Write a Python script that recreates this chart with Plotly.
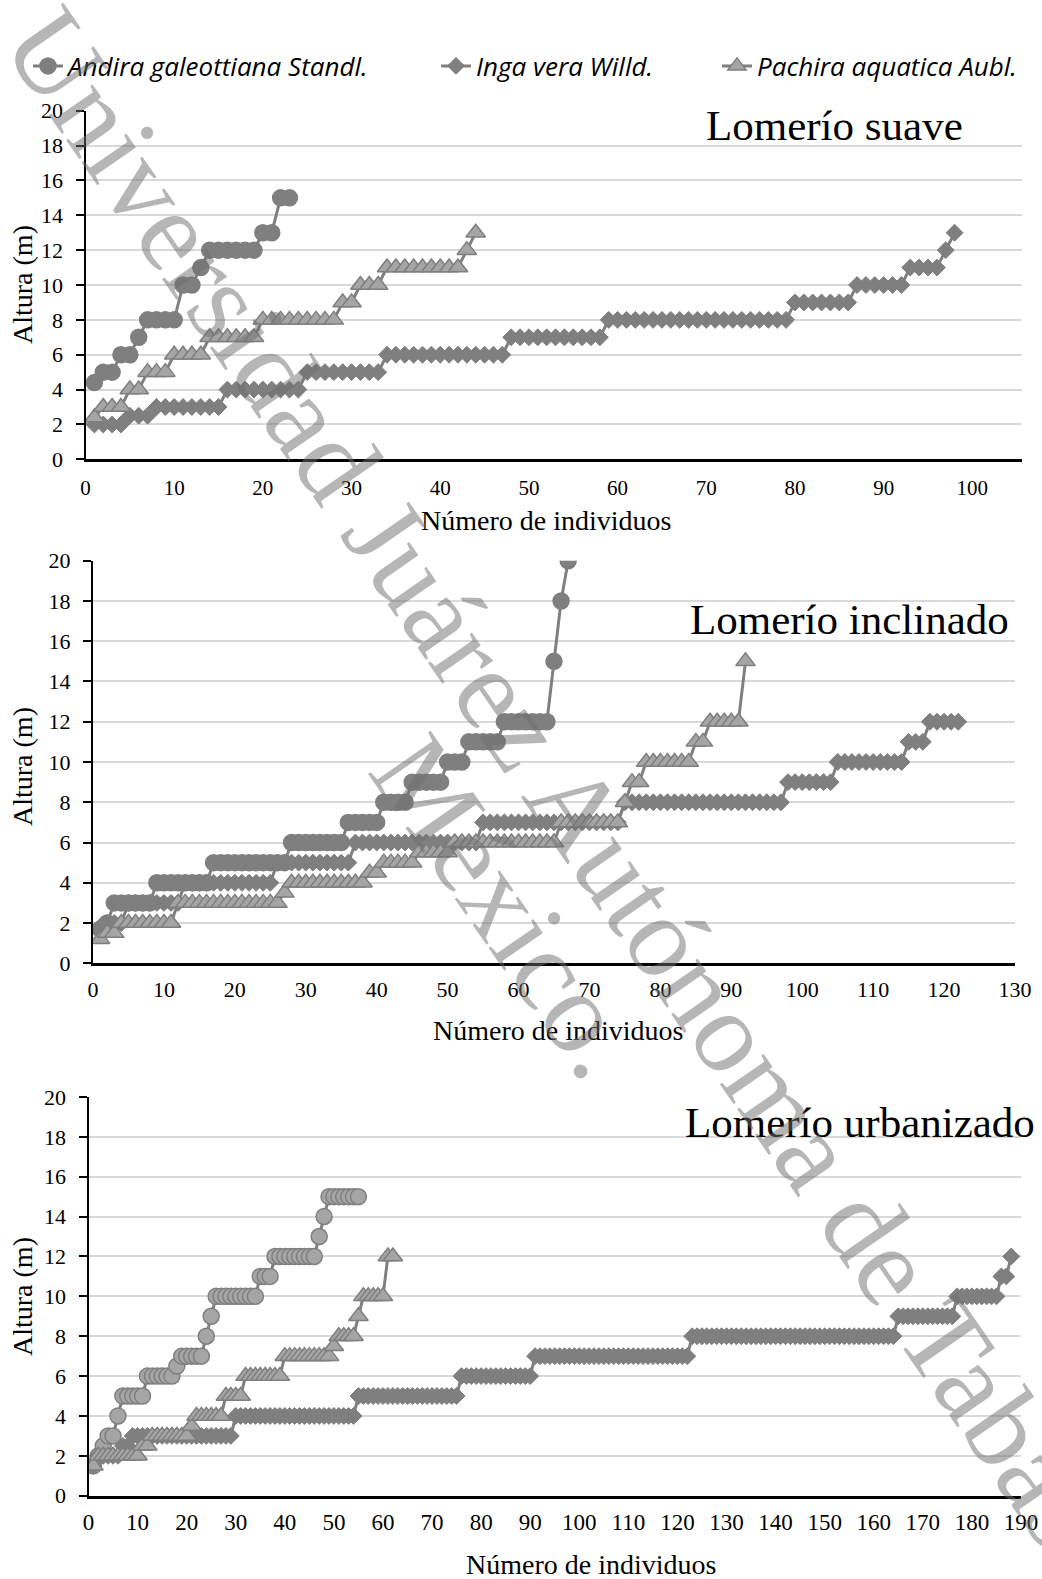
import plotly.graph_objects as go

# ---------------- data (heights in m, sorted per individual) ----------------
species = ["Andira galeottiana Standl.", "Inga vera Willd.", "Pachira aquatica Aubl."]
panel_titles = ["Lomerío suave", "Lomerío inclinado", "Lomerío urbanizado"]
x_title = "Número de individuos"
y_title = "Altura (m)"
y_ticks = [0, 2, 4, 6, 8, 10, 12, 14, 16, 18, 20]
watermark_lines = ["Universidad Juárez Autónoma de Tabasco,", "México."]

# Lomerío suave
andira_suave = [4.4, 5, 5, 6, 6, 7, 8, 8, 8, 8, 10, 10, 11, 12, 12, 12, 12, 12, 12, 13, 13, 15, 15]
inga_suave = [2, 2, 2, 2,
              2.5, 2.5, 2.5,
              3, 3, 3, 3, 3, 3, 3, 3,
              4, 4, 4, 4, 4, 4, 4, 4, 4,
              5, 5, 5, 5, 5, 5, 5, 5, 5,
              6, 6, 6, 6, 6, 6, 6, 6, 6, 6, 6, 6, 6, 6,
              7, 7, 7, 7, 7, 7, 7, 7, 7, 7, 7,
              8, 8, 8, 8, 8, 8, 8, 8, 8, 8, 8, 8, 8, 8, 8, 8, 8, 8, 8, 8, 8,
              9, 9, 9, 9, 9, 9, 9,
              10, 10, 10, 10, 10, 10,
              11, 11, 11, 11,
              12, 13]
pachira_suave = [2.4, 3, 3, 3, 4, 4, 5, 5, 5, 6, 6, 6, 6, 7, 7, 7, 7, 7, 7,
                 8, 8, 8, 8, 8, 8, 8, 8, 8, 9, 9, 10, 10, 10,
                 11, 11, 11, 11, 11, 11, 11, 11, 11, 12, 13]

# Lomerío inclinado
andira_incl = [1.7, 2,
               3, 3, 3, 3, 3, 3,
               4, 4, 4, 4, 4, 4, 4, 4,
               5, 5, 5, 5, 5, 5, 5, 5, 5, 5, 5,
               6, 6, 6, 6, 6, 6, 6, 6,
               7, 7, 7, 7, 7,
               8, 8, 8, 8,
               9, 9, 9, 9, 9,
               10, 10, 10,
               11, 11, 11, 11, 11,
               12, 12, 12, 12, 12, 12, 12,
               15, 18, 20]
inga_incl = [1.8, 2, 2, 2,
             3, 3, 3, 3, 3, 3, 3, 3,
             4, 4, 4, 4, 4, 4, 4, 4, 4, 4, 4, 4, 4,
             5, 5, 5, 5, 5, 5, 5, 5, 5, 5, 5,
             6, 6, 6, 6, 6, 6, 6, 6, 6, 6, 6, 6, 6, 6, 6, 6, 6, 6,
             7, 7, 7, 7, 7, 7, 7, 7, 7, 7, 7, 7, 7, 7, 7, 7, 7, 7, 7, 7,
             8, 8, 8, 8, 8, 8, 8, 8, 8, 8, 8, 8, 8, 8, 8, 8, 8, 8, 8, 8, 8, 8, 8,
             9, 9, 9, 9, 9, 9, 9,
             10, 10, 10, 10, 10, 10, 10, 10, 10, 10,
             11, 11, 11,
             12, 12, 12, 12, 12]
pachira_incl = [1.2, 1.5, 1.5,
                2, 2, 2, 2, 2, 2, 2, 2,
                3, 3, 3, 3, 3, 3, 3, 3, 3, 3, 3, 3, 3, 3, 3,
                3.5,
                4, 4, 4, 4, 4, 4, 4, 4, 4, 4, 4,
                4.5, 4.5,
                5, 5, 5, 5, 5,
                5.5, 5.5, 5.5, 5.5, 5.5,
                6, 6, 6, 6, 6, 6, 6, 6, 6, 6, 6, 6, 6, 6, 6,
                7, 7, 7, 7, 7, 7, 7, 7, 7,
                8, 9, 9,
                10, 10, 10, 10, 10, 10, 10,
                11, 11,
                12, 12, 12, 12, 12,
                15]

# Lomerío urbanizado
andira_urb = [1.5, 2, 2.5, 3, 3, 4,
              5, 5, 5, 5, 5,
              6, 6, 6, 6, 6, 6,
              6.5,
              7, 7, 7, 7, 7,
              8, 9,
              10, 10, 10, 10, 10, 10, 10, 10, 10,
              11, 11, 11,
              12, 12, 12, 12, 12, 12, 12, 12, 12,
              13, 14,
              15, 15, 15, 15, 15, 15, 15]
inga_urb = [1.5,
            2, 2, 2, 2, 2,
            2.5, 2.5,
            3, 3, 3, 3, 3, 3, 3, 3, 3, 3,
            3, 3, 3, 3, 3, 3, 3, 3, 3, 3,
            3,
            4, 4, 4, 4, 4, 4, 4, 4, 4, 4,
            4, 4, 4, 4, 4, 4, 4, 4, 4, 4,
            4, 4, 4, 4, 4,
            5, 5, 5, 5, 5, 5, 5, 5, 5, 5,
            5, 5, 5, 5, 5, 5, 5, 5, 5, 5,
            5,
            6, 6, 6, 6, 6, 6, 6, 6, 6, 6,
            6, 6, 6, 6, 6,
            7, 7, 7, 7, 7, 7, 7, 7, 7, 7,
            7, 7, 7, 7, 7, 7, 7, 7, 7, 7,
            7, 7, 7, 7, 7, 7, 7, 7, 7, 7,
            7, 7,
            8, 8, 8, 8, 8, 8, 8, 8, 8, 8,
            8, 8, 8, 8, 8, 8, 8, 8, 8, 8,
            8, 8, 8, 8, 8, 8, 8, 8, 8, 8,
            8, 8, 8, 8, 8, 8, 8, 8, 8, 8,
            8, 8,
            9, 9, 9, 9, 9, 9, 9, 9, 9, 9,
            9, 9,
            10, 10, 10, 10, 10, 10, 10, 10, 10,
            11, 11,
            12]
pachira_urb = [1.5,
               2, 2, 2, 2, 2, 2, 2, 2, 2,
               2.5, 2.5,
               3, 3, 3, 3, 3, 3, 3, 3,
               3.5,
               4, 4, 4, 4, 4, 4,
               5, 5, 5, 5,
               6, 6, 6, 6, 6, 6, 6, 6,
               7, 7, 7, 7, 7, 7, 7, 7, 7, 7,
               7.5,
               8, 8, 8, 8,
               9,
               10, 10, 10, 10, 10,
               12, 12]

panels = [
    dict(a=andira_suave, i=inga_suave, p=pachira_suave, xmax=105.6, andira_fill="#7f7f7f"),
    dict(a=andira_incl, i=inga_incl, p=pachira_incl, xmax=130, andira_fill="#7f7f7f"),
    dict(a=andira_urb, i=inga_urb, p=pachira_urb, xmax=190, andira_fill="#a5a5a5"),
]

# ---------------- layout geometry (pixels in a 1042 x 1579 page) ----------------
W, H = 1042, 1579
DARK = "#7f7f7f"
LIGHT = "#a5a5a5"
SERIF = "Liberation Serif, Times New Roman, serif"

x_px = [(85.5, 1022), (93, 1015), (88.5, 1021)]
y_px = [(110.7, 459.3), (560.7, 963.3), (1097, 1495.7)]
xtick_size = [21, 22, 23]
xtick_standoff = [8, 5, 4]

fig = go.Figure()
legend_names = ["legend", "legend2", "legend3"]

for k, pn in enumerate(panels):
    xa = "x" if k == 0 else f"x{k+1}"
    ya = "y" if k == 0 else f"y{k+1}"
    series = [
        (pn["a"], "circle", 16, pn["andira_fill"], DARK, 1.5),
        (pn["i"], "diamond", 13, DARK, DARK, 1),
        (pn["p"], "triangle-up", 17, LIGHT, DARK, 1.5),
    ]
    for s, (vals, sym, size, fill, edge, ew) in enumerate(series):
        fig.add_trace(go.Scatter(
            x=list(range(1, len(vals) + 1)), y=vals,
            mode="lines+markers",
            name=species[s],
            line=dict(color=DARK, width=3),
            marker=dict(symbol=sym, size=size, color=fill,
                        line=dict(color=edge, width=ew)),
            xaxis=xa, yaxis=ya,
            showlegend=(k == 0),
            legend=legend_names[s],
        ))

layout = dict(
    template="none",
    width=W, height=H,
    margin=dict(l=0, r=0, t=0, b=0, pad=0, autoexpand=False),
    paper_bgcolor="white", plot_bgcolor="white",
    annotations=[],
)

for k, pn in enumerate(panels):
    xkey = "xaxis" if k == 0 else f"xaxis{k+1}"
    ykey = "yaxis" if k == 0 else f"yaxis{k+1}"
    xa = "x" if k == 0 else f"x{k+1}"
    ya = "y" if k == 0 else f"y{k+1}"
    x0, x1 = x_px[k]
    ytop, ybot = y_px[k]
    layout[xkey] = dict(
        domain=[x0 / W, x1 / W], range=[0, pn["xmax"]], anchor=ya,
        dtick=10, tick0=0, showgrid=False, zeroline=False, automargin=False,
        showline=True, linecolor="black", linewidth=2.5,
        ticks="", ticklabelstandoff=xtick_standoff[k],
        tickfont=dict(family=SERIF, size=xtick_size[k], color="black"),
    )
    layout[ykey] = dict(
        domain=[1 - ybot / H, 1 - ytop / H], range=[0, 20], anchor=xa,
        tickvals=y_ticks, showgrid=True, gridcolor="#d9d9d9", gridwidth=2,
        zeroline=False, showline=True, linecolor="black", linewidth=2, automargin=False,
        ticks="outside", ticklen=8, tickwidth=1.5, tickcolor="black",
        ticklabelstandoff=8,
        tickfont=dict(family=SERIF, size=22, color="black"),
    )

title_pos = [(965, 126), (1011, 619), (1037, 1122)]
xtitle_pos = [(546, 521), (558, 1030), (591, 1564)]
ytitle_pos = [(22, 285), (22, 767), (22, 1297)]
for k in range(3):
    tx, ty = title_pos[k]
    layout["annotations"].append(dict(
        text=panel_titles[k], xref="paper", yref="paper", x=tx / W, y=1 - ty / H,
        xanchor="right", yanchor="middle", showarrow=False,
        font=dict(family=SERIF, size=43, color="black")))
    ax, ay = xtitle_pos[k]
    layout["annotations"].append(dict(
        text=x_title, xref="paper", yref="paper", x=ax / W, y=1 - ay / H,
        xanchor="center", yanchor="middle", showarrow=False,
        font=dict(family=SERIF, size=28, color="black")))
    bx, by = ytitle_pos[k]
    layout["annotations"].append(dict(
        text=y_title, xref="paper", yref="paper", x=bx / W, y=1 - by / H,
        xanchor="center", yanchor="middle", showarrow=False, textangle=-90,
        font=dict(family=SERIF, size=28, color="black")))

# watermark (diagonal, over the charts), one annotation per line
wm_pos = [(594, 834), (507, 906)]
for line, (wx, wy) in zip(watermark_lines, wm_pos):
    layout["annotations"].append(dict(
        text=line, xref="paper", yref="paper", x=wx / W, y=1 - wy / H,
        xanchor="center", yanchor="middle", showarrow=False, textangle=55.3,
        font=dict(family=SERIF, size=116, color="rgba(110,110,110,0.5)")))

legend_x = [28, 436, 717]
for s in range(3):
    layout[legend_names[s]] = dict(
        x=legend_x[s] / W, y=1 - 66 / H, xanchor="left", yanchor="middle",
        orientation="h", bgcolor="rgba(0,0,0,0)",
        font=dict(family="Open Sans, sans-serif", size=26, color="black", style="italic"),
    )

fig.update_layout(**layout)
fig.write_html("out.html")
